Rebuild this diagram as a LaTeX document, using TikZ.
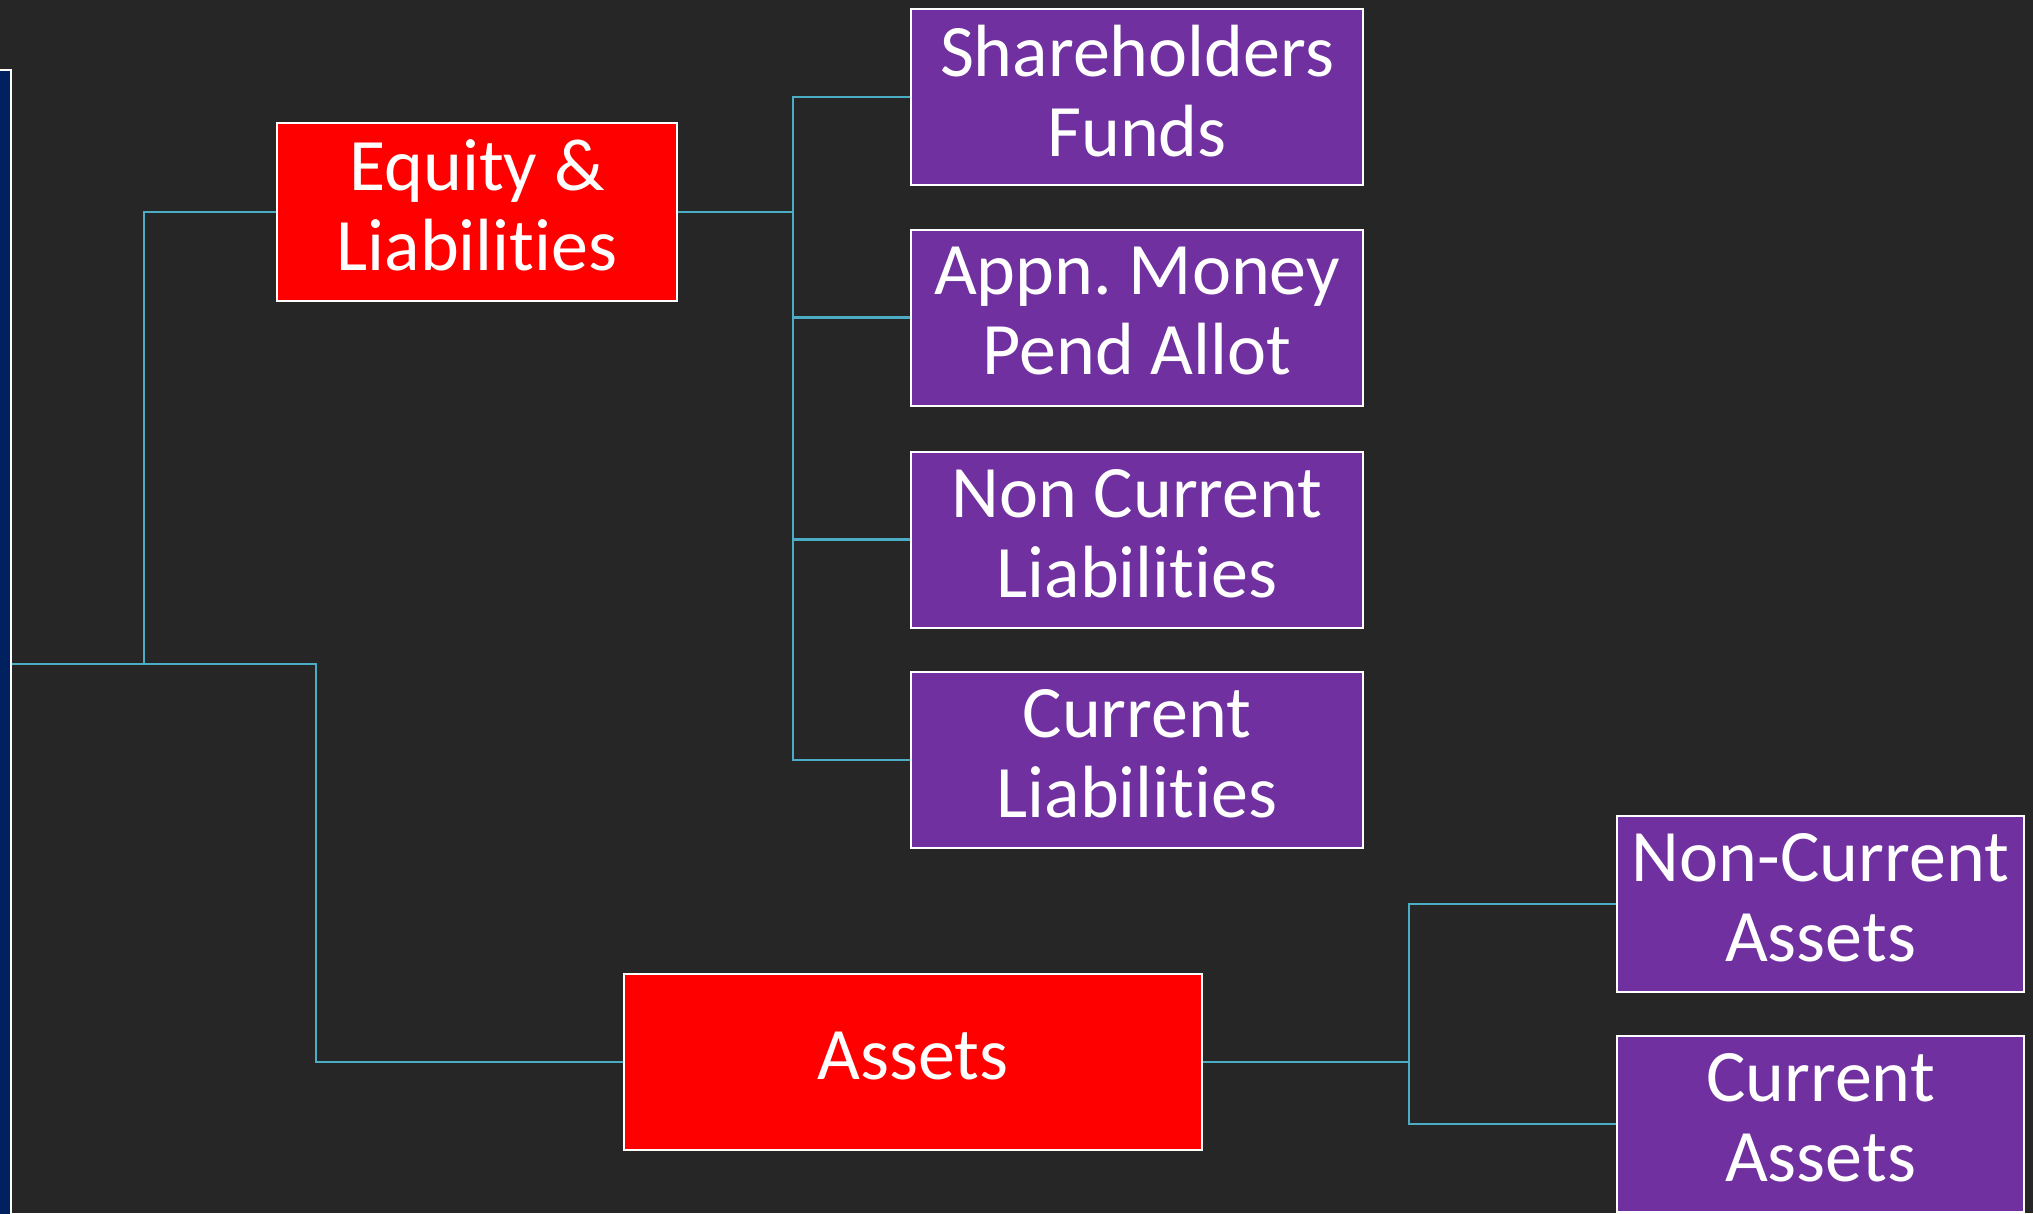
\documentclass[tikz,border=0pt]{standalone}
\usepackage{fontspec}
\setmainfont{Carlito}[Ligatures=NoCommon]
\frenchspacing
\definecolor{bg}{RGB}{38,38,38}
\definecolor{navy}{RGB}{0,32,96}
\definecolor{boxred}{RGB}{255,0,0}
\definecolor{boxpurple}{RGB}{112,48,160}
\definecolor{teal}{RGB}{75,172,198}
\tikzset{
  box/.style={draw=white, line width=2pt, text=white, align=center, inner sep=0pt,
    text depth=13pt, font=\fontsize{74}{80}\selectfont},
  redbox/.style={box, fill=boxred},
  purplebox/.style={box, fill=boxpurple, minimum width=452pt, minimum height=176pt},
  assetbox/.style={box, fill=boxpurple, minimum width=407pt, minimum height=176pt},
  conn/.style={draw=teal, line width=2.5pt}
}
\begin{document}
\begin{tikzpicture}[x=1pt,y=-1pt]
\useasboundingbox (0,0) rectangle (2033,1213);
\clip (0,0) rectangle (2033,1213);
\fill[bg] (0,0) rectangle (2033,1213);
% root panel on the left
\node[draw=white, line width=2pt, fill=navy, minimum width=61pt, minimum height=1188pt, inner sep=0pt] (root) at (-19.5,664) {};
% main nodes
\node[redbox, minimum width=400pt, minimum height=178pt] (eq) at (477,212) {Equity \&\\Liabilities};
\node[redbox, minimum width=578pt, minimum height=176pt] (as) at (913,1062) {Assets};
\node[purplebox] (sh) at (1137,97) {Shareholders\\Funds};
\node[purplebox] (ap) at (1137,317.5) {Appn. Money\\Pend Allot};
\node[purplebox] (nc) at (1137,539.5) {Non Current\\Liabilities};
\node[purplebox] (cl) at (1137,760) {Current\\Liabilities};
\node[assetbox] (nca) at (1820.5,904) {Non-Current\\Assets};
\node[assetbox] (ca) at (1820.5,1124) {Current\\Assets};
% junctions
\coordinate (j1) at (316,1062);
\coordinate (j2) at (144,664);
\coordinate (b1) at (793,212);
\coordinate (b2) at (1409,1062);
% connectors
\draw[conn] (root.east) -| (j1) -- (as.west);
\draw[conn] (j2) |- (eq.west);
\draw[conn] (eq.east) -- (b1);
\draw[conn] (b1) |- (sh.west);
\draw[conn] (b1) |- (ap.west);
\draw[conn] (b1) |- (nc.west);
\draw[conn] (b1) |- (cl.west);
\draw[conn] (as.east) -- (b2);
\draw[conn] (b2) |- (nca.west);
\draw[conn] (b2) |- (ca.west);
\end{tikzpicture}
\end{document}
